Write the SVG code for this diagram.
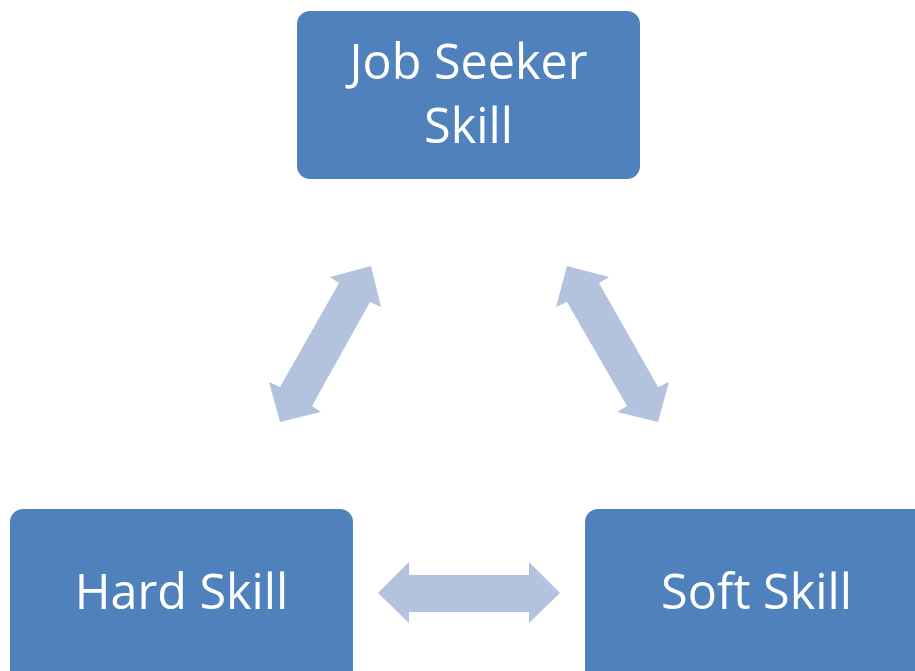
<svg xmlns="http://www.w3.org/2000/svg" width="915" height="671" viewBox="0 0 915 671">
<style>
.box{fill:#4F81BD}
.lbl{fill:#FFFFFF;font-family:"Open Sans","Liberation Sans",sans-serif;font-size:48.5px;text-anchor:middle}
.arr{fill:#B3C3DE}
</style>
<rect width="915" height="671" fill="#FFFFFF"/>
<g id="connectors">
<polygon class="arr" points="371,266 381,307 370,302 312,406 321,412 280,422 269,382 280,387 339,283 330,277"/>
<polygon class="arr" points="567,266 609,277 599,283 658,387 669,382 658,422 617,412 627,406 567,302 556,307"/>
<polygon class="arr" points="378,593 409,562 409,575 529,575 529,562 560,593 529,623 529,612 409,612 409,623"/>
</g>
<g id="job-seeker-skill">
<rect class="box" x="297" y="11" width="343" height="168" rx="13"/>
<text class="lbl" x="468.5" y="79">Job Seeker</text>
<text class="lbl" x="468.5" y="143">Skill</text>
</g>
<g id="hard-skill">
<rect class="box" x="10" y="509" width="343" height="180" rx="13"/>
<text class="lbl" x="181.5" y="609">Hard Skill</text>
</g>
<g id="soft-skill">
<rect class="box" x="585" y="509" width="343" height="180" rx="13"/>
<text class="lbl" x="756.5" y="609">Soft Skill</text>
</g>
</svg>
